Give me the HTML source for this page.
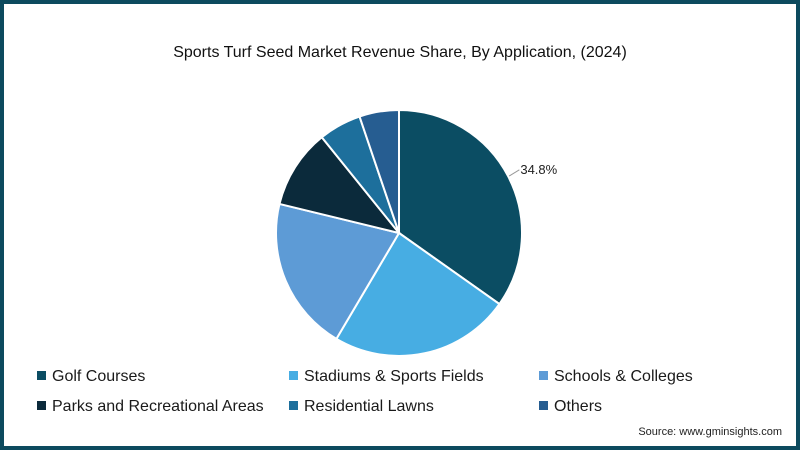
<!DOCTYPE html>
<html><head><meta charset="utf-8"><style>
html,body{margin:0;padding:0;}
body{width:800px;height:450px;position:relative;background:#fff;font-family:"Liberation Sans",sans-serif;overflow:hidden;}
#frame{position:absolute;left:0;top:0;width:792px;height:442px;border:4px solid #0d4a5e;}
#title{position:absolute;left:0;width:800px;top:44px;text-align:center;font-size:16px;color:#111;}
.leg{position:absolute;font-size:16px;color:#1a1a1a;white-space:nowrap;}
.leg i{display:inline-block;width:9px;height:9px;margin-right:6px;vertical-align:1px;}
#src{position:absolute;right:18px;top:426px;font-size:11px;color:#222;}
</style></head><body>
<div id="frame"></div>
<div id="title">Sports Turf Seed Market Revenue Share, By Application, (2024)</div>
<svg id="pie" width="800" height="450" style="position:absolute;left:0;top:0"></svg>
<div class="leg" style="left:37px;top:368px"><i style="background:#0b4d63"></i>Golf Courses</div>
<div class="leg" style="left:289px;top:368px"><i style="background:#47ade3"></i>Stadiums &amp; Sports Fields</div>
<div class="leg" style="left:539px;top:368px"><i style="background:#5d9bd6"></i>Schools &amp; Colleges</div>
<div class="leg" style="left:37px;top:398px"><i style="background:#0b2a3b"></i>Parks and Recreational Areas</div>
<div class="leg" style="left:289px;top:398px"><i style="background:#1d6f9c"></i>Residential Lawns</div>
<div class="leg" style="left:539px;top:398px"><i style="background:#265d91"></i>Others</div>
<div id="src">Source: www.gminsights.com</div>
<script>
const categories=["Golf Courses","Stadiums & Sports Fields","Schools & Colleges","Parks and Recreational Areas","Residential Lawns","Others"];
const values=[34.8,23.7,20.3,10.4,5.6,5.2];
const colors=["#0b4d63","#47ade3","#5d9bd6","#0b2a3b","#1d6f9c","#265d91"];
const labels=["34.8%","","","","",""];
const svg=document.getElementById('pie');
const NS="http://www.w3.org/2000/svg";
const cx=399,cy=233,r=123;
const total=values.reduce((a,b)=>a+b,0);
function pt(a,rr){return [cx+rr*Math.sin(a),cy-rr*Math.cos(a)];}
let acc=0;
values.forEach((v,i)=>{
  const a0=acc/total*2*Math.PI; acc+=v; const a1=acc/total*2*Math.PI;
  const p0=pt(a0,r),p1=pt(a1,r);
  const path=document.createElementNS(NS,'path');
  path.setAttribute('d',`M${cx},${cy}L${p0[0]},${p0[1]}A${r},${r} 0 ${a1-a0>Math.PI?1:0} 1 ${p1[0]},${p1[1]}Z`);
  path.setAttribute('fill',colors[i]);path.setAttribute('stroke','#fff');path.setAttribute('stroke-width','2');
  
  
  svg.appendChild(path);
  if(labels[i]){
    const ang=(a0+a1)/2;
    const q0=pt(ang,r+1),q1=pt(ang,r+8);
    const ln=document.createElementNS(NS,'line');
    ln.setAttribute('x1',q0[0]);ln.setAttribute('y1',q0[1]);ln.setAttribute('x2',q1[0]+4);ln.setAttribute('y2',q1[1]-3);
    ln.setAttribute('stroke','#999');
    
    
    svg.appendChild(ln);
    const t=document.createElementNS(NS,'text');
    t.setAttribute('x',q1[0]+5);t.setAttribute('y',q1[1]+1);
    t.setAttribute('font-size','13');t.setAttribute('fill','#222');
    t.setAttribute('font-family','Liberation Sans, sans-serif');
    t.textContent=labels[i];
    
    
    svg.appendChild(t);
  }
});
</script>
</body></html>
